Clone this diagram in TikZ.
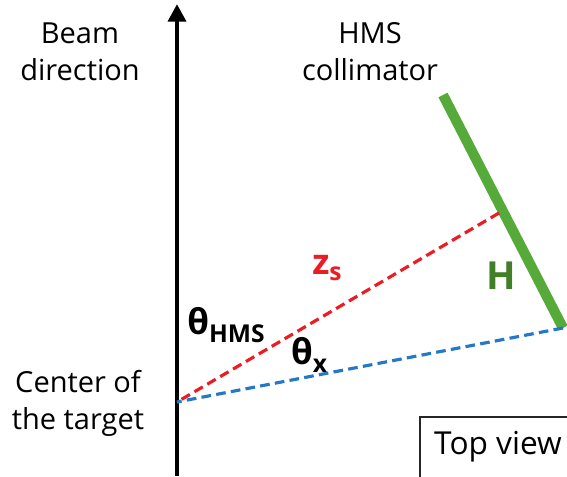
\documentclass[tikz,border=0pt]{standalone}
\usepackage{fontspec}
\setmainfont{Open Sans}
\usetikzlibrary{arrows.meta,positioning}
\definecolor{hgreen}{RGB}{86,170,58}
\definecolor{hdark}{RGB}{66,128,40}
\definecolor{zred}{RGB}{236,28,36}
\definecolor{xblue}{RGB}{36,120,200}
\tikzset{lbl/.style={align=center,font=\fontsize{16.5}{21}\selectfont},
 ang/.style={font=\fontsize{20}{22}\selectfont\bfseries},
 ray/.style={dashed,line width=1.8pt,dash pattern=on 5.5pt off 3pt},
 axis/.style={line width=2.8pt,-{Triangle[length=10pt,width=10pt]}},
 coll/.style={line width=5.8pt,hgreen}}
\begin{document}
\begin{tikzpicture}[x=0.02cm,y=-0.02cm]
\useasboundingbox (0,0) rectangle (567,476);
\coordinate (tgt) at (177,402);
\coordinate (top) at (177,4);
\coordinate (bot) at (177,476);
\coordinate (c1) at (443,95);\coordinate (c2) at (563,328);
\coordinate (hit) at (499,213);
\draw[axis](bot)--(top);
\draw[coll](c1)--(c2);
\draw[ray,zred](hit)--(tgt);
\draw[ray,xblue](c2)--(tgt);
\node[lbl](beam) at (80,52){Beam\\direction};
\node[lbl](hms) at (370,52){HMS\\collimator};
\node[lbl](ctr) at (78,403){Center of\\the target};
\node[ang,zred](zs) at (327,268){z\raisebox{-0.35ex}{\fontsize{14}{14}\selectfont s}};
\node[ang,hdark](h) at (501,276){\fontsize{22}{24}\selectfont H};
\node[ang](thms) at (226,325){θ\raisebox{-0.45ex}{\fontsize{14}{14}\selectfont HMS}};
\node[ang](thx) at (309,355){θ\raisebox{-0.45ex}{\fontsize{14}{14}\selectfont x}};
\draw[line width=0.7pt,black!85](420,480)|-(570,417);
\node[lbl,font=\fontsize{18}{21}\selectfont](tv) at (498,447){Top view};
\end{tikzpicture}
\end{document}
